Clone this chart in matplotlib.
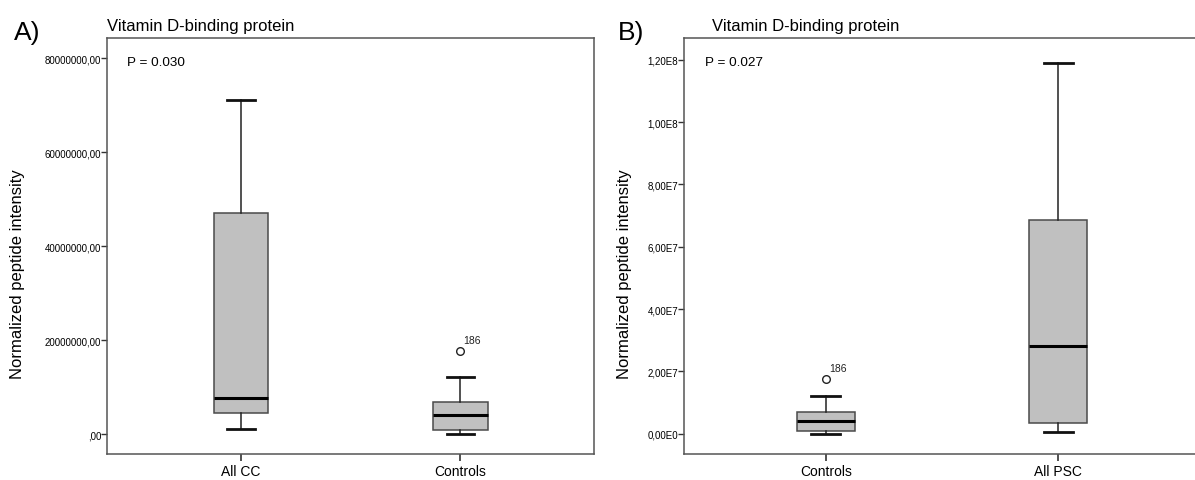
import math
import matplotlib
matplotlib.use("Agg")
import matplotlib.pyplot as plt
from matplotlib.ticker import FuncFormatter

plt.rcParams['font.family'] = ['Liberation Sans', 'DejaVu Sans']

# panel A: All CC vs Controls
a_groups = ["All CC", "Controls"]
a_whislo = [1.05e6, 0.05e6]
a_q1 = [4.6e6, 0.9e6]
a_med = [7.7e6, 4.1e6]
a_q3 = [47.0e6, 6.9e6]
a_whishi = [71.1e6, 12.1e6]
a_fliers = [[], [17.7e6]]
a_flier_ids = [[], ["186"]]
a_ticks = [0, 20e6, 40e6, 60e6, 80e6]
a_p = "P = 0.030"

# panel B: Controls vs All PSC
b_groups = ["Controls", "All PSC"]
b_whislo = [0.0, 0.53e6]
b_q1 = [0.87e6, 3.6e6]
b_med = [4.07e6, 28.3e6]
b_q3 = [6.85e6, 68.5e6]
b_whishi = [12.1e6, 118.9e6]
b_fliers = [[17.6e6], []]
b_flier_ids = [["186"], []]
b_ticks = [0, 20e6, 40e6, 60e6, 80e6, 100e6, 120e6]
b_p = "P = 0.027"

title = "Vitamin D-binding protein"
ylabel = "Normalized peptide intensity"

W, H = 1195, 481
fig = plt.figure(figsize=(W / 100, H / 100), dpi=100)


def fmt_plain(v, pos):
    return ",00" if v == 0 else f"{int(round(v))},00"


def fmt_sci(v, pos):
    if v == 0:
        return "0,00E0"
    e = int(math.floor(math.log10(abs(v)) + 1e-9))
    return f"{v / 10 ** e:.2f}".replace(".", ",") + f"E{e}"


def panel(rect, groups, whislo, q1, med, q3, whishi, fliers, ids, ticks, ylim, fmt, ptext):
    ax = fig.add_axes(rect)
    stats = [dict(whislo=lo, q1=a, med=m, q3=b, whishi=hi, fliers=f)
             for lo, a, m, b, hi, f in zip(whislo, q1, med, q3, whishi, fliers)]
    ax.bxp(stats, positions=[1, 2], widths=0.25, patch_artist=True, showfliers=True,
           boxprops=dict(facecolor="#c0c0c0", edgecolor="#4a4a4a", linewidth=1.1),
           medianprops=dict(color="black", linewidth=2.2),
           whiskerprops=dict(color="#222222", linewidth=1.1),
           capprops=dict(color="#111111", linewidth=2),
           capwidths=0.125,
           flierprops=dict(marker="o", markerfacecolor="none", markeredgecolor="#222222",
                           markersize=5.5, markeredgewidth=1))
    for i, (fl, lab) in enumerate(zip(fliers, ids)):
        for v, t in zip(fl, lab):
            ax.annotate(t, (i + 1, v), xytext=(3, 11), textcoords="offset pixels",
                        ha="left", va="center", fontsize=7.5, color="#222222")
    ax.set_xlim(0.39, 2.61)
    ax.set_ylim(*ylim)
    ax.set_yticks(ticks)
    ax.yaxis.set_major_formatter(FuncFormatter(fmt))
    ax.set_xticks([1, 2])
    ax.set_xticklabels(groups)
    ax.tick_params(axis="y", labelsize=7, length=4, width=1, pad=0.5, color="#333333")
    ax.tick_params(axis="x", labelsize=10, length=5, width=1.2, pad=2, color="#333333")
    for s in ax.spines.values():
        s.set_color("#555555")
        s.set_linewidth(1.1)
    ax.text(0.0 + (126.7 - rect[0] * W) / (rect[2] * W), 1 - (62.5 - 39.3) / (rect[3] * H),
            ptext, transform=ax.transAxes, ha="left", va="center", fontsize=9.7)
    return ax


bottom = 1 - 455.3 / H
height = (455.3 - 39.3) / H

panel([107.3 / W, bottom, (594 - 107.3) / W, height], a_groups, a_whislo, a_q1, a_med,
      a_q3, a_whishi, a_fliers, a_flier_ids, a_ticks, (-4.26e6, 84.26e6), fmt_plain, a_p)

axb = panel([684.3 / W, bottom, (1199.6 - 684.3) / W, height], b_groups, b_whislo, b_q1,
            b_med, b_q3, b_whishi, b_fliers, b_flier_ids, b_ticks, (-6.57e6, 126.9e6),
            fmt_sci, b_p)
# P label in panel B sits at the same offset from the left spine
axb.texts[-1].set_position(((704.7 - 684.3) / ((1199.6 - 684.3)), 1 - (63.3 - 39.3) / (416)))

# panel letters, titles, y labels
fig.text(14 / W, 1 - 33 / H, "A)", fontsize=19, ha="left", va="center")
fig.text(618 / W, 1 - 33 / H, "B)", fontsize=19, ha="left", va="center")
fig.text(107 / W, 1 - 27 / H, title, fontsize=12, ha="left", va="center")
fig.text(711.5 / W, 1 - 27 / H, title, fontsize=12, ha="left", va="center")
fig.text(18 / W, 1 - 274 / H, ylabel, fontsize=12, rotation=90, ha="center", va="center")
fig.text(625 / W, 1 - 274 / H, ylabel, fontsize=12, rotation=90, ha="center", va="center")

fig.savefig("out.png", dpi=100)
